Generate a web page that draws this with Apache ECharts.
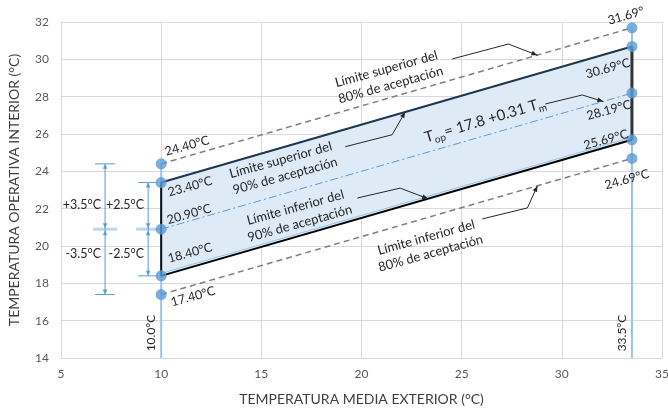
<!DOCTYPE html>
<html>
<head>
<meta charset="utf-8">
<script src="https://cdn.jsdelivr.net/npm/echarts@6/dist/echarts.min.js"></script>
<style>
  html, body { margin: 0; padding: 0; background: #fff; }
  #chart { width: 668px; height: 412px; }
</style>
</head>
<body>
<div id="chart"></div>
<script>
// Outdoor mean temperature at the two ends of the applicability range (°C)
const tmLimits = [10.0, 33.5];
// Indoor operative temperature limits at each end (°C)
const upper80 = [24.40, 31.69];
const upper90 = [23.40, 30.69];
const neutral = [20.90, 28.19];
const lower90 = [18.40, 25.69];
const lower80 = [17.40, 24.69];
// Half-widths of the acceptability bands (°C): 80 % and 90 %
const tolerances = [3.5, 2.5];
// Axis ranges and tick steps
const xRange = [5, 35];
const yRange = [14, 32];
const xStep = 5;
const yStep = 2;

// ---- layout and style settings ----
const FONT = 'Lato, "Open Sans", "Noto Sans", sans-serif';
const INK = '#262626';
const BLUE = '#5B9BD5';
const PALE = '#9DC3E6';

// pixel offsets of the value labels from each marker, [at tm=10, at tm=33.5]
const labelOffsets = {
  upper80: [[26, -18], [-6, -12]],
  upper90: [[29, 4], [-24, 22]],
  neutral: [[28, -15], [-23, 17]],
  lower90: [[29, -23], [-26, 0]],
  lower80: [[32, 2], [-5, 21]]
};
const TEXT_ROT = 15.5; // degrees, text following the comfort lines

// explanatory notes, anchored in axis units
const notes = [
  { text: 'Límite superior del\n80% de aceptación', at: [21.35, 29.05] },
  { text: 'Límite superior del\n90% de aceptación', at: [16.08, 24.18] },
  { text: 'Límite inferior del\n90% de aceptación', at: [16.81, 21.63] },
  { text: 'Límite inferior del\n80% de aceptación', at: [23.34, 20.03] }
];
const formulaAt = [26.17, 26.75];
// leader lines from the notes to the lines they describe (axis units)
const leaders = [
  [[24.53, 30.02], [27.33, 30.82], [28.78, 30.22]],
  [[19.19, 25.32], [21.53, 25.96], [22.18, 27.18]],
  [[19.79, 22.57], [21.93, 23.10], [23.33, 22.53]],
  [[26.03, 21.45], [28.28, 22.04], [28.78, 23.22]],
  [[29.18, 27.61], [31.02, 28.09], [32.07, 27.74]]
];
// horizontal placement of the two tolerance bars (axis units)
const barX = [7.2, 9.35];

const pts = ys => tmLimits.map((x, i) => [x, ys[i]]);
const limitSets = { upper80, upper90, neutral, lower90, lower80 };

function allMarkers() {
  const out = [];
  Object.keys(limitSets).forEach(k => limitSets[k].forEach((v, i) => out.push([tmLimits[i], v])));
  return out;
}

function arrowHead(a, b, len, half, color) {
  const ang = Math.atan2(b[1] - a[1], b[0] - a[0]);
  const bx = b[0] - len * Math.cos(ang), by = b[1] - len * Math.sin(ang);
  return {
    type: 'polygon',
    shape: { points: [b, [bx - half * Math.sin(ang), by + half * Math.cos(ang)], [bx + half * Math.sin(ang), by - half * Math.cos(ang)]] },
    style: { fill: color }
  };
}

// 90 % acceptability band
function renderBand(params, api) {
  const lo = tmLimits.map((x, i) => api.coord([x, lower90[i]]));
  const hi = tmLimits.map((x, i) => api.coord([x, upper90[i]]));
  return {
    type: 'group',
    children: [
      { type: 'polygon', shape: { points: [lo[0], lo[1], hi[1], hi[0]] }, style: { fill: '#DEEBF7' } },
      { type: 'line', shape: { x1: lo[0][0], y1: lo[0][1] - 2.5, x2: lo[1][0], y2: lo[1][1] - 2.5 }, style: { stroke: PALE, lineWidth: 1 } }
    ]
  };
}

// vertical limit lines with their rotated labels
function renderLimits(params, api) {
  const children = [];
  tmLimits.forEach((x, i) => {
    const b = api.coord([x, yRange[0]]);
    const t = api.coord([x, upper80[i]]);
    children.push({ type: 'line', shape: { x1: b[0], y1: b[1], x2: t[0], y2: t[1] }, style: { stroke: PALE, lineWidth: 2 } });
    children.push({
      type: 'text', x: b[0] - 10, y: b[1] - 25, rotation: Math.PI / 2,
      style: { text: x.toFixed(1) + '°C', fill: INK, font: '12px ' + FONT, align: 'center', verticalAlign: 'middle' }
    });
  });
  return { type: 'group', children };
}

// value labels beside the markers
function renderValueLabels(params, api) {
  const rot = TEXT_ROT * Math.PI / 180;
  const children = [];
  Object.keys(limitSets).forEach(k => {
    limitSets[k].forEach((v, i) => {
      const p = api.coord([tmLimits[i], v]);
      const off = labelOffsets[k][i];
      const clipped = k === 'upper80' && i === 1; // runs into the chart edge
      children.push({
        type: 'text', x: p[0] + off[0], y: p[1] + off[1], rotation: rot,
        style: {
          text: clipped ? v.toFixed(2) + '°' : v.toFixed(2) + '°C',
          fill: INK, font: '12.5px ' + FONT, align: 'center', verticalAlign: 'middle'
        }
      });
    });
  });
  return { type: 'group', children };
}

// tolerance bars around the neutral temperature
function renderBars(params, api) {
  const x = api.value(0), c = api.value(1), h = api.value(2);
  const top = api.coord([x, c + h]), mid = api.coord([x, c]), bot = api.coord([x, c - h]);
  const px = top[0], cw = 10;
  const tri = (tipY, dir) => ({
    type: 'polygon',
    shape: { points: [[px, tipY], [px - 2.2, tipY + dir * 5], [px + 2.2, tipY + dir * 5]] },
    style: { fill: BLUE }
  });
  const txt = (s, y) => ({
    type: 'text', x: px - 4, y,
    style: { text: s, fill: INK, font: '12.5px ' + FONT, align: 'right', verticalAlign: 'middle' }
  });
  return {
    type: 'group',
    children: [
      { type: 'line', shape: { x1: px - cw - 2, y1: mid[1], x2: px + cw + 2, y2: mid[1] }, style: { stroke: '#BDD7EE', lineWidth: 3 } },
      { type: 'line', shape: { x1: px, y1: top[1], x2: px, y2: bot[1] }, style: { stroke: BLUE, lineWidth: 1 } },
      { type: 'line', shape: { x1: px - cw, y1: top[1], x2: px + cw, y2: top[1] }, style: { stroke: BLUE, lineWidth: 1 } },
      { type: 'line', shape: { x1: px - cw, y1: bot[1], x2: px + cw, y2: bot[1] }, style: { stroke: BLUE, lineWidth: 1 } },
      tri(top[1], 1), tri(mid[1] - 1, -1), tri(mid[1] + 1, 1), tri(bot[1], -1),
      txt('+' + h.toFixed(1) + '°C', mid[1] - 24),
      txt('-' + h.toFixed(1) + '°C', mid[1] + 25)
    ]
  };
}

// notes, formula and leader lines
function renderNotes(params, api) {
  const rot = TEXT_ROT * Math.PI / 180;
  const children = [];
  notes.forEach(n => {
    const p = api.coord(n.at);
    children.push({
      type: 'text', x: p[0], y: p[1], rotation: rot,
      style: { text: n.text, fill: INK, font: '13px ' + FONT, align: 'center', verticalAlign: 'middle', lineHeight: 16.5 }
    });
  });
  const f = api.coord(formulaAt);
  children.push({
    type: 'text', x: f[0], y: f[1], rotation: 16.5 * Math.PI / 180,
    style: {
      text: '{a|T}{b|op}{a|= 17.8 +0.31 T}{b|m}',
      align: 'center', verticalAlign: 'middle',
      rich: {
        a: { fill: INK, fontSize: 15, fontFamily: FONT, lineHeight: 20 },
        b: { fill: INK, fontSize: 10, fontFamily: FONT, lineHeight: 11, verticalAlign: 'bottom' }
      }
    }
  });
  leaders.forEach(path => {
    const pp = path.map(c => api.coord(c));
    children.push({ type: 'polyline', shape: { points: pp }, style: { stroke: INK, lineWidth: 1, fill: 'none' } });
    children.push(arrowHead(pp[pp.length - 2], pp[pp.length - 1], 6, 2.4, INK));
  });
  return { type: 'group', children };
}

const anchor = [[tmLimits[0], neutral[0]]];
const chart = echarts.init(document.getElementById('chart'));
chart.setOption({
  animation: false,
  backgroundColor: '#ffffff',
  grid: { left: 61, right: 6, top: 22, bottom: 54, containLabel: false, outerBoundsMode: 'none' },
  xAxis: {
    type: 'value', min: xRange[0], max: xRange[1], interval: xStep,
    name: 'TEMPERATURA MEDIA EXTERIOR (°C)', nameLocation: 'middle', nameGap: 34,
    nameTextStyle: { fontFamily: FONT, fontSize: 14, color: '#404040' },
    axisLine: { show: true, lineStyle: { color: '#D9D9D9', width: 1 } },
    axisTick: { show: false },
    axisLabel: { fontFamily: FONT, fontSize: 12, color: '#595959', margin: 10 },
    splitLine: { show: true, lineStyle: { color: '#D9D9D9', width: 1 } }
  },
  yAxis: {
    type: 'value', min: yRange[0], max: yRange[1], interval: yStep,
    name: 'TEMPERATURA OPERATIVA INTERIOR (°C)', nameLocation: 'middle', nameGap: 40,
    nameTextStyle: { fontFamily: FONT, fontSize: 14, color: '#404040' },
    axisLine: { show: true, lineStyle: { color: '#D9D9D9', width: 1 } },
    axisTick: { show: false },
    axisLabel: { fontFamily: FONT, fontSize: 12, color: '#595959', margin: 12 },
    splitLine: { show: true, lineStyle: { color: '#D9D9D9', width: 1 } }
  },
  series: [
    { type: 'custom', name: 'band', renderItem: renderBand, data: anchor, z: 1, silent: true },
    { type: 'custom', name: 'limits', renderItem: renderLimits, data: anchor, z: 2, silent: true },
    {
      type: 'line', name: 'upper80', data: pts(upper80), symbol: 'none', z: 3,
      lineStyle: { color: '#7F7F7F', width: 1.5, type: [6, 4] }
    },
    {
      type: 'line', name: 'lower80', data: pts(lower80), symbol: 'none', z: 3,
      lineStyle: { color: '#7F7F7F', width: 1.5, type: [6, 4] }
    },
    {
      type: 'line', name: 'neutral', data: pts(neutral), symbol: 'none', z: 3,
      lineStyle: { color: BLUE, width: 1, type: [8, 3, 2, 3] }
    },
    {
      type: 'line', name: 'upper90', data: pts(upper90), symbol: 'none', z: 4,
      lineStyle: { color: '#1F3550', width: 2 }
    },
    {
      type: 'line', name: 'lower90', data: pts(lower90), symbol: 'none', z: 4,
      lineStyle: { color: '#000000', width: 2 }
    },
    {
      type: 'line', name: 'edgeLow', data: [[tmLimits[0], lower90[0]], [tmLimits[0], upper90[0]]], symbol: 'none', z: 5,
      lineStyle: { color: '#111111', width: 2 }
    },
    {
      type: 'line', name: 'edgeHigh', data: [[tmLimits[1], lower90[1]], [tmLimits[1], upper90[1]]], symbol: 'none', z: 5,
      lineStyle: { color: '#333333', width: 3 }
    },
    {
      type: 'custom', name: 'bars', renderItem: renderBars, z: 5, silent: true,
      data: tolerances.map((t, i) => [barX[i], neutral[0], t])
    },
    {
      type: 'scatter', name: 'points', data: allMarkers(), z: 6,
      symbol: 'circle', symbolSize: 11,
      itemStyle: { color: BLUE }
    },
    { type: 'custom', name: 'values', renderItem: renderValueLabels, data: anchor, z: 7, silent: true },
    { type: 'custom', name: 'notes', renderItem: renderNotes, data: anchor, z: 7, silent: true }
  ]
});
</script>
</body>
</html>
